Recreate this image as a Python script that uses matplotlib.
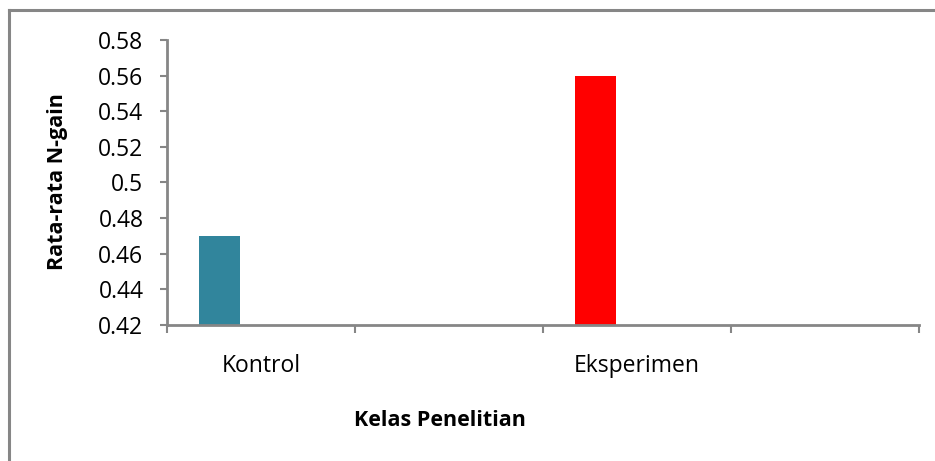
import numpy as np
import matplotlib.pyplot as plt
from matplotlib.lines import Line2D

categories = ['Kontrol', '', 'Eksperimen', '']
values = [0.47, None, 0.56, None]
bar_colors = ['#31859C', None, '#FF0000', None]
yticks = [0.42, 0.44, 0.46, 0.48, 0.5, 0.52, 0.54, 0.56, 0.58]
ytick_labels = ['0.42', '0.44', '0.46', '0.48', '0.5', '0.52', '0.54', '0.56', '0.58']

plt.rcParams['font.family'] = ['Open Sans', 'DejaVu Sans']

fig = plt.figure(figsize=(9.35, 4.61), dpi=100)
ax = fig.add_axes([167 / 935, 1 - 325 / 461, (919 - 167) / 935, (325 - 40) / 461])

x = np.arange(len(categories))
for xi, v, c in zip(x, values, bar_colors):
    if v is not None:
        ax.bar(xi - 0.22, v - 0.42, width=0.22, bottom=0.42, color=c, zorder=2)

ax.set_xlim(-0.5, len(categories) - 0.5)
ax.set_ylim(0.42, 0.58)
ax.set_yticks(yticks)
ax.set_yticklabels(ytick_labels, fontsize=16.5, color='#000000')

ax.set_xticks(np.arange(len(categories) + 1) - 0.5)
ax.set_xticklabels([])
ax.set_xticks(x, minor=True)
ax.set_xticklabels(categories, minor=True, fontsize=16.5)
ax.tick_params(axis='x', which='minor', length=0, pad=21)
ax.tick_params(axis='x', which='major', direction='out', length=6, width=1.5, color='#868686')
ax.tick_params(axis='y', direction='out', length=5, width=1.5, color='#868686', pad=12)

for s in ['top', 'right']:
    ax.spines[s].set_visible(False)
for s in ['left', 'bottom']:
    ax.spines[s].set_color('#868686')
    ax.spines[s].set_linewidth(2)

fig.text(57 / 935, 1 - 182 / 461, 'Rata-rata N-gain', rotation=90, ha='center', va='center',
         fontsize=15.5, fontweight='bold')
fig.text(440 / 935, 1 - 420 / 461, 'Kelas Penelitian', ha='center', va='center',
         fontsize=15.5, fontweight='bold')

# outer chart frame (only top and left visible in the crop)
fig.add_artist(Line2D([9 / 935, 1], [1 - 10 / 461, 1 - 10 / 461], color='#868686', lw=2.2,
                      transform=fig.transFigure))
fig.add_artist(Line2D([9 / 935, 9 / 935], [0, 1 - 10 / 461], color='#868686', lw=2.2,
                      transform=fig.transFigure))

fig.savefig('out.png', dpi=100)
